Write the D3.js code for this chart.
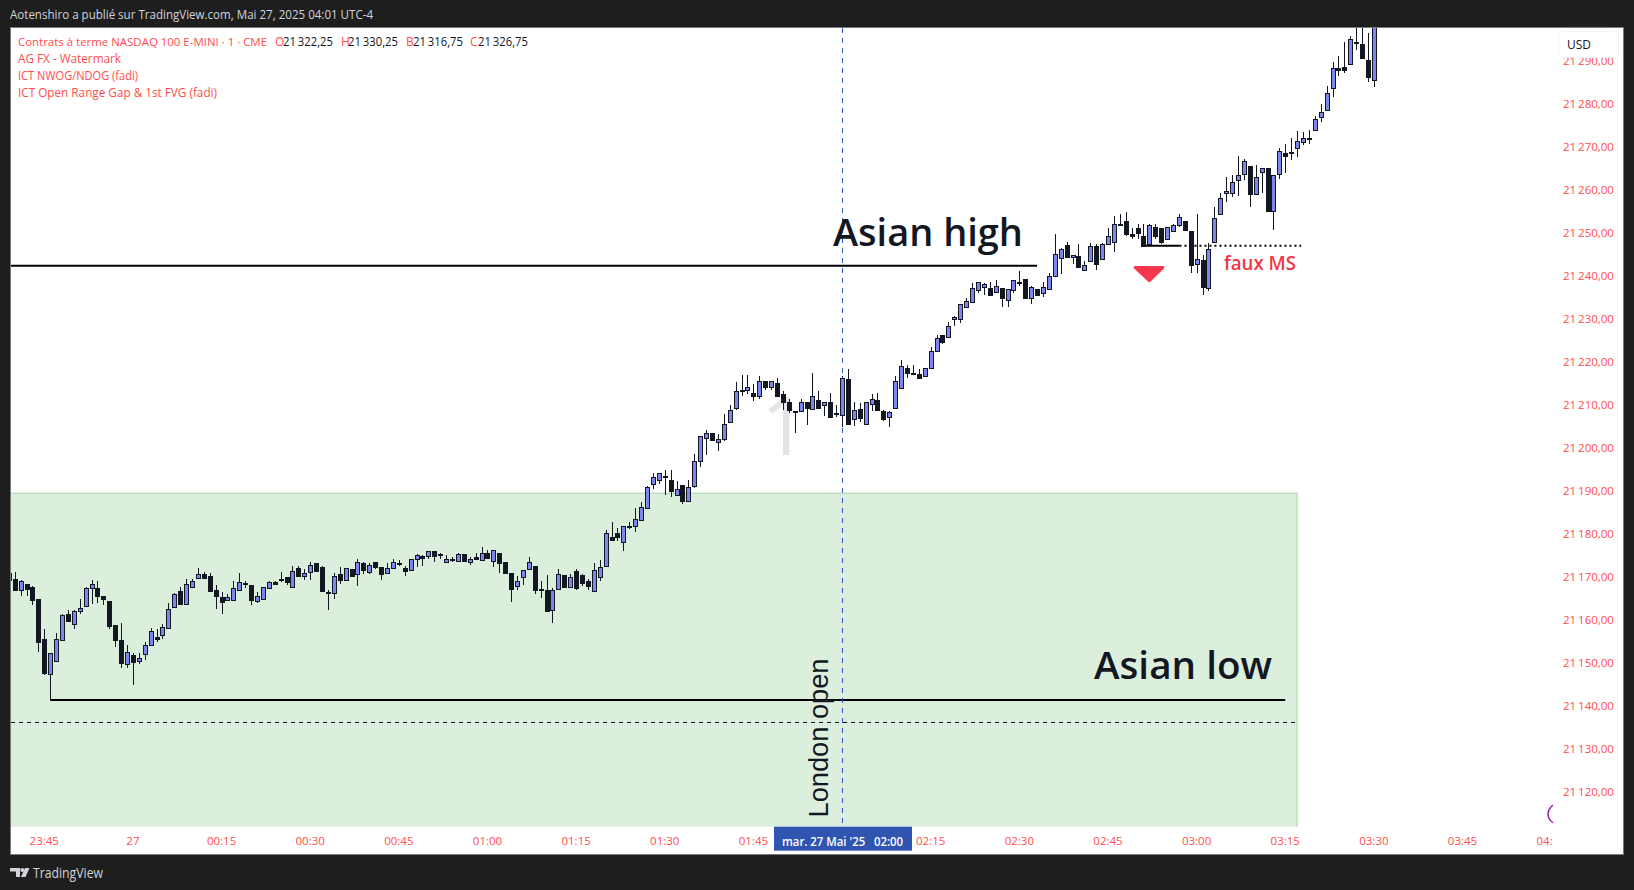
<!DOCTYPE html>
<html><head><meta charset="utf-8">
<script src="https://cdnjs.cloudflare.com/ajax/libs/d3/7.9.0/d3.min.js"></script>
<style>html,body{margin:0;padding:0;background:#1e1e1e;overflow:hidden}svg{display:block}</style>
</head><body><svg id="c" width="1634" height="890"></svg>
<script>
// Bars start six minutes before 23:45 (bar number -6)
const firstBar = -6;
const barHigh = [21170.8,21171.1,21169.2,21168.2,21167.8,21164.7,
21157.8,21152.2,21156.9,21161.3,21162.2,21162.2,21164.7,21167.6,21169.2,21169.0,
21165.5,21164.3,21158.7,21159.2,21154.1,21152.2,21152.2,21154.7,21158.0,21157.8,
21159.0,21163.8,21166.1,21167.6,21169.4,21169.4,21172.0,21171.0,21170.8,21168.0,
21166.4,21165.9,21168.9,21170.8,21168.9,21168.0,21166.4,21167.7,21168.9,21168.9,
21171.0,21169.8,21172.4,21172.4,21171.8,21173.3,21173.1,21172.4,21167.0,21170.8,
21172.2,21171.9,21171.7,21174.0,21173.5,21173.1,21173.3,21172.2,21173.1,21174.2,
21173.8,21172.4,21174.2,21175.2,21175.0,21175.9,21175.9,21175.6,21175.0,21174.5,
21175.6,21175.2,21174.5,21175.6,21176.8,21176.3,21176.3,21175.6,21173.5,21170.8,
21170.1,21171.5,21174.5,21172.4,21168.9,21170.3,21167.3,21171.7,21170.3,21170.5,
21171.7,21170.5,21169.4,21173.1,21173.8,21180.8,21182.6,21181.2,21181.7,21182.6,
21185.9,21187.3,21191.0,21194.0,21194.0,21194.7,21194.7,21192.2,21191.2,21192.4,
21198.4,21202.6,21204.0,21203.5,21203.1,21207.7,21209.8,21215.2,21216.8,21216.8,
21214.7,21216.6,21215.6,21215.6,21216.1,21213.1,21211.4,21208.4,21211.4,21210.5,
21217.3,21213.1,21210.7,21212.6,21209.8,21216.6,21218.2,21210.5,21210.3,21210.5,
21212.4,21212.6,21208.7,21208.4,21216.6,21220.4,21219.1,21219.3,21218.2,21218.4,
21223.3,21226.1,21226.1,21229.1,21230.7,21233.3,21234.7,21238.2,21238.6,21238.2,
21238.4,21238.9,21237.0,21236.8,21238.9,21241.0,21239.3,21237.5,21236.8,21238.6,
21240.7,21249.6,21246.5,21247.7,21244.7,21247.3,21243.3,21247.5,21247.3,21247.5,
21251.0,21253.8,21254.2,21254.7,21251.0,21252.1,21252.1,21251.9,21252.1,21251.0,
21251.2,21251.9,21254.2,21252.6,21250.3,21254.2,21244.7,21247.5,21255.9,21259.3,
21262.8,21263.3,21267.7,21267.2,21265.4,21265.6,21264.9,21264.9,21263.3,21269.6,
21270.7,21271.9,21273.5,21273.3,21273.8,21277.2,21280.0,21284.0,21289.6,21291.0,
21294.2,21295.6,21300.5,21300.5,21296.3,21305.0];
const barLow = [21169.2,21166.7,21165.6,21165.6,21163.5,21152.5,
21147.2,21141.3,21150.4,21155.0,21159.8,21157.9,21161.4,21163.2,21163.7,21163.9,
21163.5,21157.8,21153.7,21148.8,21148.8,21144.9,21149.7,21150.7,21154.0,21154.9,
21155.6,21158.1,21162.7,21163.7,21163.7,21167.4,21169.7,21169.7,21166.7,21162.5,
21161.4,21164.3,21164.5,21167.0,21167.4,21163.5,21163.9,21164.9,21167.3,21168.4,
21168.7,21168.0,21167.7,21170.2,21169.2,21169.2,21171.4,21166.5,21162.3,21164.9,
21168.4,21169.1,21170.2,21167.9,21170.5,21170.5,21171.8,21169.3,21170.7,21172.1,
21172.4,21170.2,21171.6,21172.3,21172.5,21174.2,21173.5,21174.2,21173.5,21173.5,
21173.7,21173.7,21172.8,21174.1,21173.9,21174.4,21172.3,21170.9,21170.7,21164.2,
21167.0,21168.1,21171.6,21166.0,21165.1,21162.1,21159.3,21167.2,21167.7,21167.4,
21167.0,21167.9,21167.0,21166.7,21169.1,21172.4,21178.2,21178.2,21176.0,21181.0,
21180.4,21183.2,21185.9,21190.3,21191.5,21188.9,21188.4,21188.9,21187.0,21187.5,
21190.5,21195.6,21198.3,21201.5,21199.3,21201.5,21205.9,21208.7,21211.9,21212.4,
21210.9,21211.2,21213.5,21213.3,21211.9,21208.7,21208.0,21203.3,21208.4,21205.2,
21208.9,21208.9,21207.3,21207.0,21207.0,21204.7,21205.6,21205.0,21205.9,21205.4,
21208.4,21208.7,21206.3,21204.7,21209.1,21213.8,21216.1,21216.8,21215.9,21216.6,
21218.4,21222.2,21224.0,21225.6,21228.3,21228.9,21232.6,21233.8,21235.9,21235.4,
21235.4,21236.1,21232.6,21232.6,21235.9,21237.5,21234.7,21233.5,21235.4,21234.9,
21236.8,21240.0,21240.3,21244.2,21242.8,21241.7,21241.2,21243.3,21241.2,21243.8,
21247.3,21245.5,21251.9,21249.1,21248.4,21248.6,21246.8,21247.3,21248.6,21247.3,
21248.2,21250.3,21251.2,21250.5,21240.5,21240.5,21235.4,21236.3,21247.7,21254.2,
21257.2,21258.2,21258.4,21262.1,21255.9,21258.9,21259.3,21254.9,21250.7,21262.4,
21263.8,21266.8,21267.5,21270.3,21270.7,21273.8,21275.6,21278.4,21281.4,21286.3,
21287.0,21289.1,21292.4,21290.3,21284.9,21283.8];
const barOpen = [21170.8,21169.4,21166.8,21168.2,21167.6,21164.7,
21155.4,21147.4,21150.4,21155.3,21161.3,21159.0,21162.1,21163.2,21167.4,21167.3,
21165.5,21164.3,21158.7,21155.2,21149.8,21151.7,21150.5,21152.1,21154.0,21155.9,
21156.5,21158.1,21163.0,21166.6,21163.7,21167.7,21169.7,21170.6,21170.1,21166.8,
21165.2,21164.5,21164.5,21167.0,21168.6,21168.0,21164.3,21164.9,21167.3,21168.7,
21169.4,21169.8,21167.7,21171.9,21170.1,21171.0,21173.1,21172.2,21166.5,21166.3,
21170.5,21169.3,21171.7,21170.5,21173.1,21171.1,21173.3,21172.2,21170.9,21172.1,
21173.2,21171.9,21171.6,21174.2,21174.7,21174.9,21175.9,21175.2,21173.5,21174.0,
21173.7,21175.2,21173.3,21174.5,21173.9,21175.4,21173.7,21175.4,21173.5,21170.8,
21167.9,21169.8,21171.8,21172.4,21167.1,21166.8,21162.3,21167.2,21170.3,21167.7,
21171.2,21170.3,21169.1,21166.7,21170.0,21172.4,21179.1,21180.1,21178.1,21181.7,
21181.8,21183.2,21185.9,21191.5,21192.4,21193.5,21192.4,21188.9,21191.2,21187.5,
21191.0,21196.8,21202.2,21203.5,21201.2,21201.9,21205.9,21209.1,21213.3,21213.5,
21212.6,21211.9,21215.6,21214.0,21215.0,21212.4,21210.7,21208.4,21208.4,21210.5,
21208.9,21211.0,21209.8,21210.5,21208.0,21207.5,21215.9,21206.6,21208.9,21205.4,
21210.1,21211.0,21208.4,21207.0,21209.1,21213.8,21218.4,21217.3,21217.0,21216.6,
21218.4,21222.4,21226.1,21225.6,21229.8,21230.0,21232.6,21233.8,21236.6,21237.3,
21237.0,21236.1,21237.0,21234.2,21236.6,21238.6,21239.3,21234.7,21236.8,21235.9,
21236.8,21240.0,21244.0,21247.0,21244.2,21244.5,21241.2,21243.3,21246.8,21243.8,
21247.3,21247.7,21252.1,21252.6,21249.6,21251.0,21249.3,21247.3,21251.4,21251.0,
21248.6,21250.3,21251.7,21252.6,21250.3,21242.6,21243.5,21237.0,21247.7,21254.2,
21259.1,21259.1,21262.1,21263.5,21265.4,21258.9,21264.0,21264.9,21254.9,21263.5,
21268.6,21268.7,21269.6,21271.0,21271.9,21273.8,21276.8,21278.4,21283.5,21288.2,
21288.6,21289.1,21294.2,21293.8,21290.0,21285.4];
const barClose = [21169.2,21166.9,21168.9,21167.1,21164.6,21154.9,
21147.7,21152.2,21155.4,21161.0,21159.8,21161.9,21162.6,21167.3,21168.2,21165.6,
21164.8,21158.5,21155.3,21150.0,21152.4,21150.2,21151.2,21154.2,21157.3,21155.6,
21158.4,21162.4,21165.9,21163.7,21168.4,21168.9,21170.5,21169.7,21166.7,21165.6,
21164.2,21165.2,21167.3,21168.7,21168.4,21164.6,21165.4,21167.5,21168.7,21168.4,
21169.3,21168.7,21171.2,21170.2,21170.8,21172.6,21171.4,21166.7,21166.3,21170.1,
21169.3,21171.9,21170.2,21173.5,21171.6,21172.6,21172.3,21170.5,21171.9,21173.3,
21173.1,21171.4,21174.2,21175.0,21174.4,21175.9,21174.9,21175.0,21174.0,21173.9,
21175.2,21173.7,21174.0,21174.1,21175.6,21174.4,21176.3,21173.2,21170.9,21167.2,
21168.9,21171.5,21173.3,21167.0,21166.9,21162.1,21167.0,21170.5,21167.7,21169.8,
21167.4,21168.6,21167.9,21171.5,21172.2,21180.1,21178.6,21179.3,21181.7,21181.5,
21183.5,21186.3,21190.8,21193.1,21194.0,21193.2,21189.8,21190.3,21187.5,21190.8,
21197.0,21202.6,21203.5,21201.7,21201.9,21205.6,21208.7,21213.1,21213.1,21214.0,
21211.9,21215.4,21214.0,21215.6,21211.9,21210.7,21208.7,21208.2,21210.5,21209.1,
21211.9,21209.1,21210.7,21207.0,21207.7,21216.1,21205.6,21208.7,21206.8,21210.5,
21211.2,21208.7,21206.6,21208.2,21215.4,21218.9,21217.3,21217.1,21216.1,21218.4,
21222.4,21225.4,21224.5,21228.2,21230.3,21233.3,21234.0,21237.0,21238.6,21238.0,
21235.4,21237.5,21234.7,21236.8,21238.9,21238.4,21234.7,21237.3,21235.4,21237.3,
21240.0,21244.9,21246.1,21244.2,21244.7,21241.9,21242.4,21246.8,21242.6,21247.3,
21249.3,21252.1,21252.0,21249.6,21249.3,21250.0,21246.8,21251.7,21249.3,21247.7,
21251.2,21251.7,21253.5,21250.7,21242.4,21243.8,21237.3,21246.1,21253.3,21258.0,
21259.6,21261.7,21263.3,21266.6,21258.9,21262.8,21264.9,21254.9,21263.3,21268.9,
21267.7,21268.6,21271.2,21271.9,21271.7,21276.5,21278.0,21282.4,21288.2,21287.7,
21287.9,21294.9,21294.0,21290.5,21286.1,21303.0];

const priceTicks = d3.range(21120, 21300, 10);
const timeTickBars = [0,15,30,45,60,75,90,105,120,150,165,180,195,210,225,240,255];
const timeTickLabels = ["23:45","27","00:15","00:30","00:45","01:00","01:15","01:30","01:45","02:15","02:30","02:45","03:00","03:15","03:30","03:45","04:00"];
const legendLines = ["AG FX - Watermark","ICT NWOG/NDOG (fadi)","ICT Open Range Gap & 1st FVG (fadi)"];

const asianHighPrice = 21242.3, asianHighEndBar = 168;
const asianLowPrice = 21141.3, asianLowBars = [1,210];
const rangeTopPrice = 21189.4, rangeBottomPrice = 21110, rangeEndBar = 212;
const dashedPrice = 21136.1;
const fauxPrice = 21246.9, fauxBars = [186,192.1,212.7];
const crossBar = 135;

const W=1634,H=890;
const L=11,R=1553,T=28,B=826.7,FR=1623.5,FB=854.5;
const x=d3.scaleLinear().domain([0,15]).range([44.28,132.92]);
const y=d3.scaleLinear().domain([21120,21280]).range([791.7,103.5]);
const svg=d3.select("#c");
const FONT="'Open Sans',sans-serif";
const RED="#ff4d4d", INK="#131722", BLUE="#7c85f0";

svg.append("rect").attr("width",W).attr("height",H).attr("fill","#1e1e1e");
svg.append("rect").attr("x",L-.5).attr("y",T-.5).attr("width",FR-L+.5).attr("height",FB-T+.5).attr("fill","#fff").attr("stroke","#7a7a7a");
const defs=svg.append("defs");
defs.append("clipPath").attr("id","pane").append("rect").attr("x",L).attr("y",T).attr("width",R-L).attr("height",B-T);
defs.append("clipPath").attr("id","timeClip").append("rect").attr("x",L).attr("y",B).attr("width",R-L).attr("height",FB-B);

function txt(g,s,px,py,size,fill,len,weight,family){
  const t=g.append("text").attr("x",px).attr("y",py).attr("font-size",size).attr("fill",fill)
    .attr("font-family",family||FONT).attr("font-weight",weight||400).text(s);
  if(len) t.attr("textLength",len).attr("lengthAdjust","spacingAndGlyphs");
  return t;
}
txt(svg,"Aotenshiro a publié sur TradingView.com, Mai 27, 2025 04:01 UTC-4",10,19,12,"#d1d4dc",363);

const pane=svg.append("g").attr("clip-path","url(#pane)");
// watermark
txt(pane,"1",784,455,80,"#e3e4e6",null,500).attr("text-anchor","middle");
// session range
pane.append("rect").attr("x",L-2).attr("y",y(rangeTopPrice)).attr("width",x(rangeEndBar)-L+2)
  .attr("height",y(rangeBottomPrice)-y(rangeTopPrice)).attr("fill","#dcefdd").attr("stroke","#a5d6a7").attr("stroke-width",1);
// levels
pane.append("line").attr("x1",L).attr("x2",x(asianHighEndBar)).attr("y1",y(asianHighPrice)).attr("y2",y(asianHighPrice)).attr("stroke","#000").attr("stroke-width",2);
pane.append("line").attr("x1",L).attr("x2",x(rangeEndBar)).attr("y1",y(dashedPrice)).attr("y2",y(dashedPrice)).attr("stroke","#000").attr("stroke-dasharray","4 4");
pane.append("line").attr("x1",x(asianLowBars[0])).attr("x2",x(asianLowBars[1])).attr("y1",y(asianLowPrice)).attr("y2",y(asianLowPrice)).attr("stroke","#000").attr("stroke-width",2);
pane.append("line").attr("x1",x(fauxBars[0])-2).attr("x2",x(fauxBars[1])).attr("y1",y(fauxPrice)).attr("y2",y(fauxPrice)).attr("stroke","#000").attr("stroke-width",2);
pane.append("line").attr("x1",x(fauxBars[1])).attr("x2",x(fauxBars[2])).attr("y1",y(fauxPrice)).attr("y2",y(fauxPrice)).attr("stroke","#000").attr("stroke-width",2).attr("stroke-dasharray","2 3");
// crosshair
pane.append("line").attr("x1",Math.round(x(crossBar))+.5).attr("x2",Math.round(x(crossBar))+.5).attr("y1",T).attr("y2",B).attr("stroke","#2f5bc0").attr("stroke-dasharray","5 5");

// candles
const bars=barOpen.map((o,i)=>({n:i+firstBar,o,h:barHigh[i],l:barLow[i],c:barClose[i]}));
const cg=pane.append("g");
const cx=d=>Math.round(x(d.n));
cg.selectAll(".w").data(bars).join("rect").attr("class","w")
  .attr("x",d=>cx(d)).attr("width",1)
  .attr("y",d=>Math.round(y(d.h))).attr("height",d=>Math.max(1,Math.round(y(d.l))-Math.round(y(d.h))))
  .attr("fill",INK);
cg.selectAll(".b").data(bars).join("rect").attr("class","b")
  .attr("x",d=>cx(d)-2+.5).attr("width",4)
  .attr("y",d=>Math.round(y(Math.max(d.o,d.c)))+.5)
  .attr("height",d=>Math.max(1,Math.round(y(Math.min(d.o,d.c)))-Math.round(y(Math.max(d.o,d.c)))))
  .attr("fill",d=>d.c>=d.o?BLUE:INK).attr("stroke",INK);

// annotations
txt(pane,"Asian high",833,246,38,INK,190,600);
txt(pane,"Asian low",1094,679,38,INK,178,600);
txt(pane,"faux MS",1224,270,19,"#f23645",72,600);
txt(pane,"London open",0,0,27,INK,159,400,"'Liberation Sans',sans-serif").attr("x",null).attr("y",null).attr("transform","translate(828,817.5) rotate(-90)");
// down flag
const flagPts=[[184.6,21241.9],[189.3,21241.9],[187,21238.8]];
pane.append("path").attr("d",d3.line().x(d=>x(d[0])).y(d=>y(d[1]))(flagPts)+"Z").attr("fill","#f7374f").attr("stroke","#f7374f").attr("stroke-width",3).attr("stroke-linejoin","round");
// purple session circle
pane.append("circle").attr("cx",1558).attr("cy",814).attr("r",10).attr("fill","#fff").attr("stroke","#9c27b0").attr("stroke-width",1.5);

// legend
const lg=svg.append("g");
txt(lg,"Contrats à terme NASDAQ 100 E-MINI · 1 · CME",18,46,11.5,RED,249);
[["O",275],["H",341],["B",406],["C",470]].forEach(d=>txt(lg,d[0],d[1],46,12,RED));
[["21\u2009322,25",283],["21\u2009330,25",348],["21\u2009316,75",413],["21\u2009326,75",478]].forEach(d=>txt(lg,d[0],d[1],46,12,INK,50));
legendLines.forEach((s,i)=>{const w=[103,120,199][i];txt(lg,s,18,63+i*17,12,RED,w);});

// price axis
const pa=svg.append("g").attr("transform",`translate(${R},0)`)
 .call(d3.axisRight(y).tickValues(priceTicks).tickSize(0).tickPadding(10).tickFormat(d=>d3.format("d")(d).replace(/^(\d\d)/,"$1\u2009")+",00"));
pa.select(".domain").remove();
pa.selectAll("text").attr("font-family",FONT).attr("font-size",11.5).attr("font-weight",500).attr("fill",RED);

// time axis
const ta=svg.append("g").attr("clip-path","url(#timeClip)").append("g").attr("transform",`translate(-0.5,${B})`)
 .call(d3.axisBottom(x).tickValues(timeTickBars).tickSize(0).tickPadding(10.5).tickFormat((d,i)=>timeTickLabels[i]));
ta.select(".domain").remove();
ta.selectAll("text").attr("font-family",FONT).attr("font-size",11.5).attr("font-weight",500).attr("fill",RED);

// crosshair label
svg.append("rect").attr("x",774).attr("y",B).attr("width",138).attr("height",24).attr("fill","#2f55b0");
txt(svg,"mar. 27 Mai '25   02:00",842.5,846,12,"#fff",121,600).attr("text-anchor","middle").attr("xml:space","preserve");

// USD box
svg.append("rect").attr("x",1558.5).attr("y",31.5).attr("width",60).attr("height",26).attr("rx",3).attr("fill","#fff").attr("stroke","#f0f3fa");
txt(svg,"USD",1567,49,12,INK);

// footer logo
const fg=svg.append("g").attr("fill","#d1d4dc");
fg.append("path").attr("d","M10 868H20V877H16V871.5H10Z");
fg.append("circle").attr("cx",22.3).attr("cy",870).attr("r",2);
fg.append("path").attr("d","M25 868H29.5L25.5 877H21Z");
txt(svg,"TradingView",33,878,14,"#d1d4dc",70);
</script></body></html>
